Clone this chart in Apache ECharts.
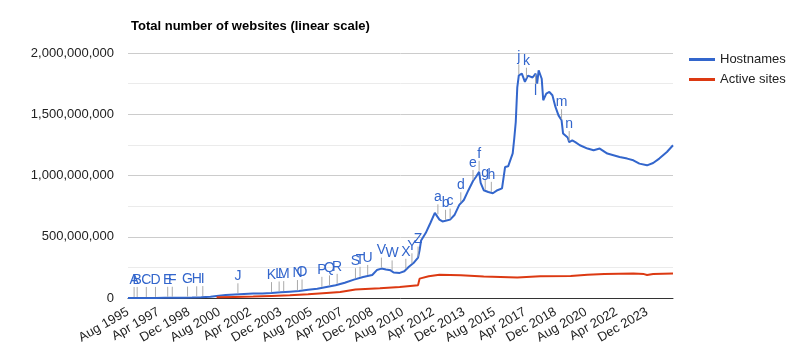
<!DOCTYPE html>
<html>
<head>
<meta charset="utf-8">
<script src="https://cdn.jsdelivr.net/npm/echarts@6/dist/echarts.min.js"></script>
<style>
  html, body { margin: 0; padding: 0; background: #ffffff; }
  #chart { width: 807px; height: 363px; }
</style>
</head>
<body>
<div id="chart"></div>
<script>
// ---- Data ----
const chartTitle = 'Total number of websites (linear scale)';
const seriesNames = ['Hostnames', 'Active sites'];
const monthNames = ['Jan','Feb','Mar','Apr','May','Jun','Jul','Aug','Sep','Oct','Nov','Dec'];
const axisStart = '1995-08';
const axisEnd = '2025-05';

const hostDates = [
  '1995-08','1996-01','1996-08','1997-02','1997-08','1998-02','1998-08','1999-02','1999-08','2000-02',
  '2000-06','2000-12','2001-06','2001-12','2002-06','2002-12','2003-06','2003-12','2004-06','2004-12',
  '2005-06','2005-12','2006-06','2006-12','2007-06','2007-12','2008-06','2008-12','2009-03','2009-06',
  '2009-09','2009-12','2010-02','2010-06','2010-09','2010-12','2011-03','2011-06','2011-07','2011-08',
  '2011-11','2012-02','2012-05','2012-06','2012-08','2012-10','2012-12','2013-03','2013-06','2013-09',
  '2013-12','2014-03','2014-06','2014-08','2014-10','2014-11','2015-01','2015-04','2015-07','2015-10',
  '2016-01','2016-03','2016-05','2016-08','2016-09','2016-10','2016-11','2016-12','2017-01','2017-02',
  '2017-04','2017-06','2017-09','2017-11','2017-12','2018-01','2018-03','2018-04','2018-06','2018-08',
  '2018-10','2018-12','2019-02','2019-04','2019-05','2019-08','2019-09','2019-11','2020-01','2020-04',
  '2020-09','2021-01','2021-05','2021-10','2022-02','2022-06','2022-11','2023-03','2023-07','2023-12',
  '2024-04','2024-08','2025-01','2025-05'
];
const hostValues = [
  19000,100000,340000,740000,1500000,2200000,3000000,4100000,7000000,11000000,
  17000000,24000000,29000000,33000000,36000000,37000000,40000000,46000000,52000000,58000000,
  68000000,76000000,90000000,104000000,125000000,150000000,172000000,188000000,228000000,240000000,
  232000000,226000000,208000000,205000000,218000000,255000000,285000000,330000000,390000000,470000000,
  530000000,610000000,695000000,710000000,640000000,625000000,630000000,640000000,680000000,760000000,
  800000000,880000000,955000000,990000000,1030000000,940000000,880000000,865000000,855000000,880000000,
  895000000,1069000000,1075000000,1180000000,1300000000,1437000000,1720000000,1818000000,1805000000,1832000000,
  1765000000,1815000000,1800000000,1832000000,1750000000,1859000000,1790000000,1614000000,1669000000,1682000000,
  1655000000,1560000000,1491000000,1451000000,1342000000,1310000000,1273000000,1287000000,1273000000,1247000000,
  1220000000,1206000000,1220000000,1179000000,1165000000,1151000000,1138000000,1124000000,1097000000,1083000000,
  1102000000,1138000000,1192000000,1247000000
];

const activeDates = [
  '2000-06','2001-06','2002-06','2003-06','2004-06','2005-06','2006-06','2007-03','2008-01','2009-05',
  '2010-06','2011-06','2011-07','2012-01','2012-08','2013-10','2015-01','2016-11','2018-02','2019-10',
  '2020-09','2021-08','2023-03','2023-10','2023-12','2024-04','2025-05'
];
const activeValues = [
  6000000,9000000,12000000,17000000,22000000,30000000,41000000,49000000,69000000,80000000,
  90000000,105000000,158000000,177000000,189000000,185000000,175000000,168000000,177000000,180000000,
  190000000,195000000,200000000,195000000,188000000,195000000,199000000
];

const annotationLabels = ['A','B','C','D','E','F','G','H','I','J','K','L','M','N','O','P','Q','R','S','T','U','V','W','X','Y','Z',
  'a','b','c','d','e','f','g','h','j','k','l','m','n'];
const annotationDates = ['1995-12','1996-02','1996-08','1997-02','1997-10','1998-01','1998-11','1999-05','1999-09','2001-08',
  '2003-06','2003-11','2004-02','2004-11','2005-02','2006-03','2006-08','2007-01','2008-01','2008-04',
  '2008-09','2009-06','2010-01','2010-10','2011-02','2011-06',
  '2012-07','2012-12','2013-03','2013-10','2014-06','2014-10','2015-02','2015-06','2016-12','2017-05','2017-11','2019-04','2019-09'];
const annotationsBelow = ['l'];

const yTickValues = [0, 500000000, 1000000000, 1500000000, 2000000000];

// ---- Helpers ----
function monthIndex(s) {
  const [y, m] = s.split('-').map(Number);
  const [y0, m0] = axisStart.split('-').map(Number);
  return (y - y0) * 12 + (m - m0);
}
function monthLabel(idx) {
  const [y0, m0] = axisStart.split('-').map(Number);
  const total = (m0 - 1) + Math.round(idx);
  return monthNames[total % 12] + ' ' + (y0 + Math.floor(total / 12));
}
const hostData = hostDates.map((d, i) => [monthIndex(d), hostValues[i]]);
const activeData = activeDates.map((d, i) => [monthIndex(d), activeValues[i]]);
function hostAt(m) {
  for (let i = 0; i < hostData.length - 1; i++) {
    const a = hostData[i], b = hostData[i + 1];
    if (m >= a[0] && m <= b[0]) {
      const t = (b[0] === a[0]) ? 0 : (m - a[0]) / (b[0] - a[0]);
      return a[1] + t * (b[1] - a[1]);
    }
  }
  return hostData[hostData.length - 1][1];
}
const annotationData = annotationDates.map((d, i) => {
  const m = monthIndex(d);
  return [m, hostAt(m), annotationLabels[i]];
});

const FONT = 'Arial, "Liberation Sans", sans-serif';

const chart = echarts.init(document.getElementById('chart'), null, { renderer: 'canvas' });
chart.setOption({
  backgroundColor: '#ffffff',
  animation: false,
  textStyle: { fontFamily: FONT },
  title: {
    text: chartTitle,
    left: 126,
    top: 15,
    textStyle: { fontFamily: FONT, fontSize: 13, fontWeight: 'bold', color: '#000' }
  },
  legend: {
    data: seriesNames,
    orient: 'vertical',
    left: 684,
    top: 48,
    icon: 'rect',
    itemWidth: 26,
    itemHeight: 3,
    itemGap: 7,
    textStyle: { fontFamily: FONT, fontSize: 13, color: '#222', padding: [0, 0, 0, 0] }
  },
  grid: {
    left: 128, right: 134, top: 53, bottom: 65,
    containLabel: false, outerBoundsMode: 'none'
  },
  xAxis: {
    type: 'value',
    min: 0,
    max: monthIndex(axisEnd),
    interval: 20,
    axisLine: { show: true, onZero: false, lineStyle: { color: '#333', width: 1 } },
    axisTick: { show: false },
    splitLine: { show: false },
    axisLabel: {
      rotate: 30,
      margin: 13,
      showMaxLabel: false,
      fontFamily: FONT,
      fontSize: 13,
      color: '#222',
      formatter: v => monthLabel(v)
    }
  },
  yAxis: {
    type: 'value',
    min: 0,
    max: 2000000000,
    interval: 250000000,
    axisLine: { show: false },
    axisTick: { show: false },
    splitLine: { show: true, lineStyle: { color: ['#cccccc', '#ebebeb'], width: 1 } },
    axisLabel: {
      margin: 14,
      fontFamily: FONT,
      fontSize: 13,
      color: '#222',
      formatter: v => yTickValues.indexOf(v) >= 0 ? v.toLocaleString('en-US') : ''
    }
  },
  series: [
    {
      name: seriesNames[0],
      type: 'line',
      data: hostData,
      showSymbol: false,
      symbol: 'none',
      lineStyle: { color: '#3366cc', width: 2 },
      itemStyle: { color: '#3366cc' },
      z: 3
    },
    {
      name: seriesNames[1],
      type: 'line',
      data: activeData,
      showSymbol: false,
      symbol: 'none',
      lineStyle: { color: '#dc3912', width: 2 },
      itemStyle: { color: '#dc3912' },
      z: 3
    },
    {
      name: 'annotations',
      type: 'custom',
      data: annotationData,
      encode: { x: 0, y: 1 },
      silent: true,
      clip: false,
      z: 4,
      renderItem: function (params, api) {
        const p = api.coord([api.value(0), api.value(1)]);
        const label = annotationData[params.dataIndex][2];
        const below = annotationsBelow.indexOf(label) >= 0;
        const dir = below ? 1 : -1;
        return {
          type: 'group',
          children: [
            {
              type: 'line',
              shape: { x1: p[0], y1: p[1] + dir * 1, x2: p[0], y2: p[1] + dir * 11 },
              style: { stroke: '#aaaaaa', lineWidth: 1 }
            },
            {
              type: 'text',
              x: p[0],
              y: p[1] + dir * 11,
              style: {
                text: label,
                fill: '#3366cc',
                font: '14px ' + FONT,
                align: 'center',
                verticalAlign: below ? 'top' : 'bottom'
              }
            }
          ]
        };
      }
    }
  ]
});
</script>
</body>
</html>
